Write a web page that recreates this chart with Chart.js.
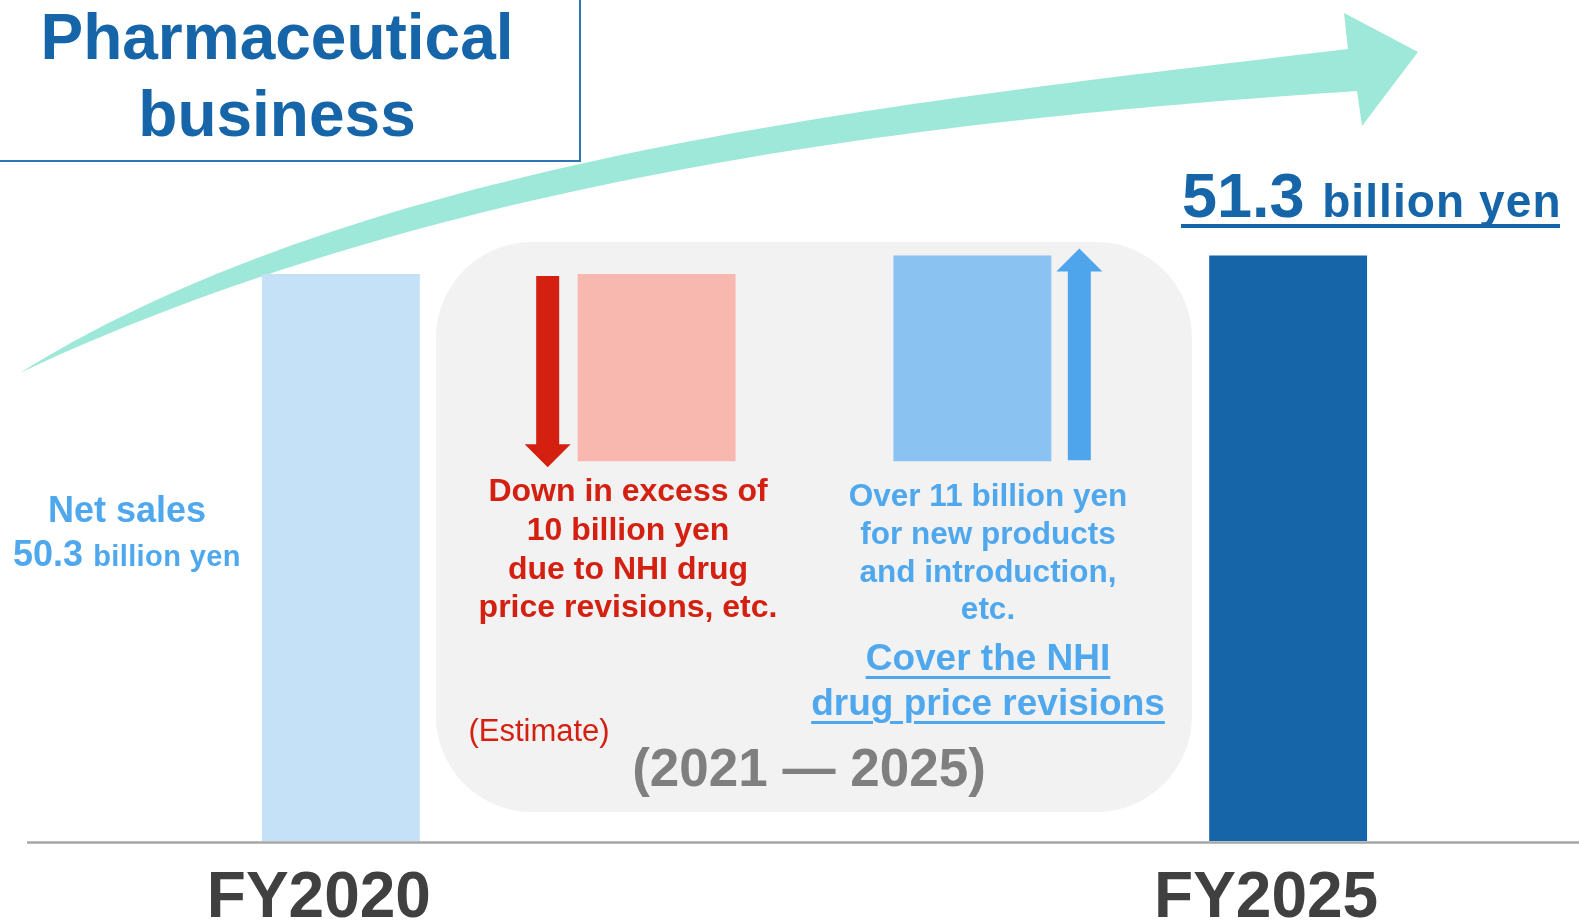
<!DOCTYPE html>
<html lang="en">
<head>
<meta charset="UTF-8">
<title>Pharmaceutical business</title>
<script src="https://cdn.jsdelivr.net/npm/chart.js"></script>
<style>
    body { margin: 0; background: #fff; font-family: 'Liberation Sans', Arial, sans-serif; }
    #wrap { position: relative; width: 1579px; height: 923px; overflow: hidden; }
    #chart { position: absolute; left: 0; top: 0; }
    .txt { position: absolute; white-space: nowrap; font-weight: bold; text-align: center; transform: translateX(-50%); }
    .title-box { position: absolute; left: -10px; top: -10px; width: 587px; height: 168px; border: 2px solid #2e75b6; }
    .title { left: 277px; top: -1px; font-size: 64px; line-height: 77px; color: #1565a8; }
    .net { left: 127px; top: 488px; font-size: 36px; line-height: 44px; color: #4fa8ee; }
    .net .small { font-size: 29px; letter-spacing: 0.4px; }
    .total { position: absolute; left: 1182px; top: 164px; white-space: nowrap; font-weight: bold; font-size: 63px; line-height: 63px; color: #1565a8; }
    .total .small { font-size: 46px; letter-spacing: 1.1px; }
    .total-line { position: absolute; left: 1181px; top: 224px; width: 379px; height: 4px; background: #1565a8; }
    .down { left: 628px; top: 471px; font-size: 32px; line-height: 38.8px; color: #d42011; }
    .estimate { left: 539px; top: 715px; font-size: 31px; line-height: 31px; font-weight: normal; color: #d42011; }
    .up { left: 988px; top: 477px; font-size: 31.5px; line-height: 37.8px; color: #4fa8ee; }
    .cover { left: 988px; top: 635px; font-size: 37px; line-height: 45px; color: #4fa8ee;
             text-decoration: underline; text-decoration-thickness: 3px; text-underline-offset: 6px; }
    .period { left: 809px; top: 741px; font-size: 53px; line-height: 53px; color: #7f7f7f; }
</style>
</head>
<body>
<div id="wrap">
    <canvas id="chart" width="1579" height="923"></canvas>

    <div class="title-box"></div>
    <div class="txt title">Pharmaceutical<br>business</div>

    <div class="txt net">Net sales<br>50.3 <span class="small">billion yen</span></div>

    <div class="total">51.3 <span class="small">billion yen</span></div>
    <div class="total-line"></div>

    <div class="txt down">Down in excess of<br>10 billion yen<br>due to NHI drug<br>price revisions, etc.</div>
    <div class="txt estimate">(Estimate)</div>

    <div class="txt up">Over 11 billion yen<br>for new products<br>and introduction,<br>etc.</div>
    <div class="txt cover">Cover the NHI<br>drug price revisions</div>

    <div class="txt period">(2021 — 2025)</div>
</div>

<script>
// values in billion yen
const categories = ['FY2020', 'NHI price revisions', 'New products', 'FY2025'];
const tickLabels = ['FY2020', '', '', 'FY2025'];
const netSales = [50.3, 51.3];      // FY2020, FY2025
const salesChange = [-10, 11];      // down by revisions, up by new products (2021-2025)
const barColors = ['#c5e1f7', '#f8b7af', '#8ac2f1', '#1565a8'];
const axisMin = 20;
const axisMax = 64.95;

// waterfall: floating bars built from the running total
const afterDecrease = netSales[0] + salesChange[0];
const barData = [
    [axisMin, netSales[0]],
    [afterDecrease, netSales[0]],
    [afterDecrease, afterDecrease + salesChange[1]],
    [axisMin, netSales[1]]
];

function drawBlockArrow(ctx, cx, from, to, shaftW, headW, headLen, color) {
    // from = tail y, to = tip y
    const dir = to > from ? 1 : -1;
    const headBase = to - dir * headLen;
    ctx.save();
    ctx.fillStyle = color;
    ctx.beginPath();
    ctx.moveTo(cx - shaftW / 2, from);
    ctx.lineTo(cx - shaftW / 2, headBase);
    ctx.lineTo(cx - headW / 2, headBase);
    ctx.lineTo(cx, to);
    ctx.lineTo(cx + headW / 2, headBase);
    ctx.lineTo(cx + shaftW / 2, headBase);
    ctx.lineTo(cx + shaftW / 2, from);
    ctx.closePath();
    ctx.fill();
    ctx.restore();
}

const decorPlugin = {
    id: 'decor',
    beforeDatasetsDraw(chart) {
        const ctx = chart.ctx;
        const area = chart.chartArea;
        ctx.save();

        // grey period panel
        ctx.fillStyle = '#f2f2f2';
        ctx.beginPath();
        ctx.roundRect(436, 242, 756, 570, 96);
        ctx.fill();

        // big growth arrow
        ctx.fillStyle = '#9de8d8';
        ctx.beginPath();
        ctx.moveTo(20, 373);
        ctx.bezierCurveTo(370, 156, 898, 103, 1348, 49);
        ctx.lineTo(1344, 13);
        ctx.lineTo(1418, 52);
        ctx.lineTo(1362, 126);
        ctx.lineTo(1357, 91);
        ctx.bezierCurveTo(1007, 115, 470, 161, 20, 373);
        ctx.closePath();
        ctx.fill();

        // base line
        ctx.strokeStyle = '#a6a6a6';
        ctx.lineWidth = 2.5;
        ctx.beginPath();
        ctx.moveTo(27, area.bottom + 1.5);
        ctx.lineTo(1579, area.bottom + 1.5);
        ctx.stroke();
        ctx.restore();
    },
    afterDatasetsDraw(chart) {
        const ctx = chart.ctx;
        const bars = chart.getDatasetMeta(0).data;
        const down = bars[1];
        const up = bars[2];
        drawBlockArrow(ctx, down.x - down.width / 2 - 30, down.y + 2, down.base + 6, 23, 46, 23, '#d42011');
        drawBlockArrow(ctx, up.x + up.width / 2 + 28, up.base - 1, up.y - 7, 23, 46, 23, '#4fa5ec');
    }
};

new Chart(document.getElementById('chart'), {
    type: 'bar',
    data: {
        labels: categories,
        datasets: [{
            data: barData,
            backgroundColor: barColors,
            borderWidth: 0,
            barPercentage: 0.5,
            categoryPercentage: 1
        }]
    },
    options: {
        responsive: false,
        animation: false,
        layout: { padding: { left: 183, right: 133, top: 0, bottom: 0 } },
        plugins: {
            legend: { display: false },
            tooltip: { enabled: false }
        },
        scales: {
            x: {
                grid: { display: false, drawTicks: false },
                border: { display: false },
                ticks: {
                    callback: (v, i) => tickLabels[i],
                    font: { family: 'Liberation Sans', size: 64, weight: 'bold' },
                    color: '#404040',
                    padding: 20,
                    labelOffset: -22,
                    autoSkip: false,
                    maxRotation: 0
                },
                afterFit(scale) { scale.height = 82; }
            },
            y: { display: false, min: axisMin, max: axisMax }
        }
    },
    plugins: [decorPlugin]
});
</script>
</body>
</html>
